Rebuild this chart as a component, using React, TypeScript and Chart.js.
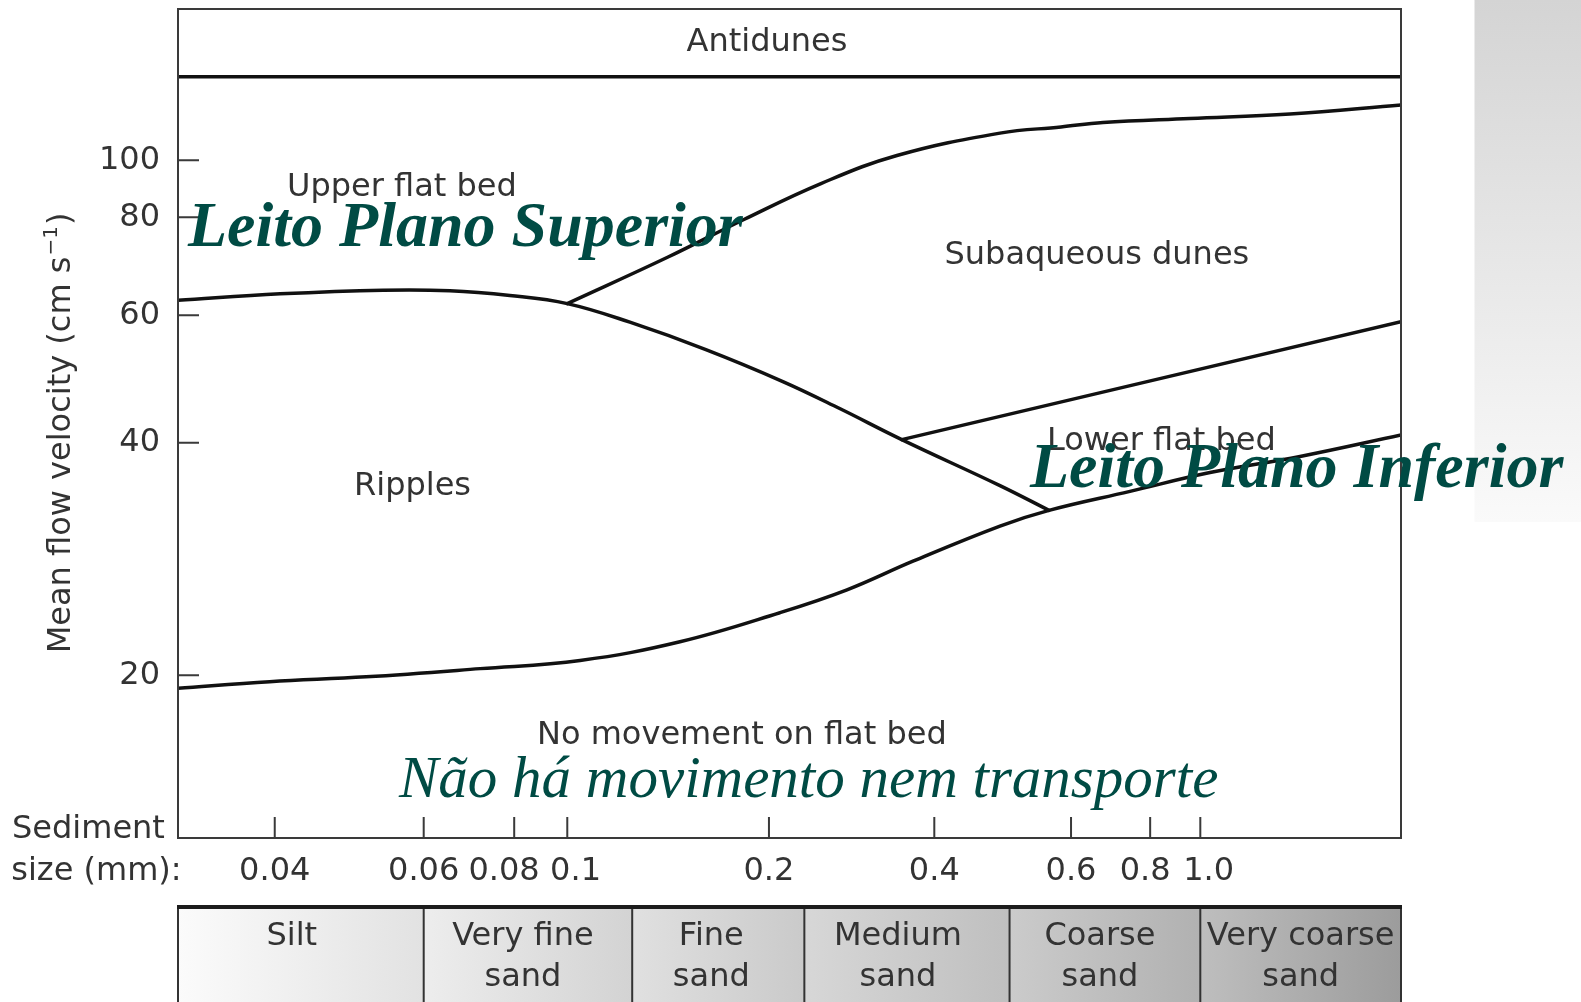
import React, { useEffect, useRef } from 'react';
import { Chart, LinearScale, registerables } from 'chart.js';

Chart.register(...registerables);

// ---------------- data ----------------
const xTickValues = [0.04, 0.06, 0.08, 0.1, 0.2, 0.4, 0.6, 0.8, 1.0];
const xTickLabels = ['0.04', '0.06', '0.08', '0.1', '0.2', '0.4', '0.6', '0.8', '1.0'];
const yTickValues = [20, 40, 60, 80, 100];
const yTickLabels = ['20', '40', '60', '80', '100'];

// calibration of the hand-drawn axes (value -> fraction of the axis length)
const xKnotValues = [0.03, 0.04, 0.06, 0.08, 0.1, 0.2, 0.4, 0.6, 0.8, 1.0, 2.0];
const xKnotFractions = [0, 0.0791, 0.2009, 0.2749, 0.3183, 0.4832, 0.6184, 0.7302, 0.7949, 0.8359, 1];
const yKnotValues = [12, 20, 40, 60, 80, 100, 170];
const yKnotFractions = [0, 0.1963, 0.4768, 0.6305, 0.7487, 0.8175, 1];

// bedform boundaries: sediment size (mm) / mean flow velocity (cm/s)
const antidunesSize = [0.03, 2.0];
const antidunesVelocity = [134, 134];

const ripplesUpperSize = [0.03, 0.0406, 0.0537, 0.0652, 0.0789, 0.1, 0.124, 0.161, 0.212, 0.269, 0.349, 0.486, 0.562];
const ripplesUpperVelocity = [62.7, 63.9, 64.6, 64.5, 63.6, 62.1, 58.7, 53.8, 48.6, 44.6, 40.4, 35.2, 32.7];

const dunesUpperSize = [0.1, 0.1414, 0.1835, 0.2487, 0.342, 0.486, 0.5824, 0.674, 0.955, 1.363, 2.0];
const dunesUpperVelocity = [62.1, 71.2, 79.5, 91.3, 101.7, 110.0, 112.4, 114.2, 115.8, 117.6, 121.4];

const dunesLowerSize = [0.349, 2.0];
const dunesLowerVelocity = [40.4, 58.8];

const movementSize = [0.03, 0.0394, 0.0513, 0.0718, 0.1045, 0.1473, 0.2094, 0.2774, 0.3658, 0.486, 0.562, 0.7434, 1.034, 1.411, 2.0];
const movementVelocity = [19.2, 19.6, 19.9, 20.4, 20.9, 22.1, 24.1, 25.8, 28.1, 31.2, 32.7, 34.6, 36.6, 38.4, 41.0];

const classBounds = [0.03, 0.06, 0.125, 0.232, 0.5, 1.0, 2.0];
const classNames = [['Silt'], ['Very fine', 'sand'], ['Fine', 'sand'], ['Medium', 'sand'], ['Coarse', 'sand'], ['Very coarse', 'sand']];

const regionTexts = ['Antidunes', 'Upper flat bed', 'Subaqueous dunes', 'Ripples', 'Lower flat bed', 'No movement on flat bed'];
const ptTexts = ['Leito Plano Superior', 'Leito Plano Inferior', 'Não há movimento nem transporte'];
const yTitleMain = 'Mean flow velocity (cm s';
const yTitleSup = '\u22121';
const yTitleEnd = ')';
const xTitleLines = ['Sediment', 'size (mm):'];

// ---------------- styles ----------------
const FONT_SANS = '"DejaVu Sans", sans-serif';
const FONT_SERIF = '"Liberation Serif", serif';
const TEXT = '#333333';
const TEAL = '#004b44';
const LINE = '#111111';
const regionTextPos: [number, number, CanvasTextAlign][] = [
  [767, 51, 'center'],
  [287, 196, 'left'],
  [944.5, 263.5, 'left'],
  [354, 495, 'left'],
  [1047, 450, 'left'],
  [537, 743.5, 'left'],
];
const ptTextStyle: [number, number, string][] = [
  [188, 246, 'italic bold 64px ' + FONT_SERIF],
  [1030, 487, 'italic bold 64px ' + FONT_SERIF],
  [399, 797, 'italic 59px ' + FONT_SERIF],
];
const classShades = [
  ['#fbfbfb', '#e2e2e2'],
  ['#ededed', '#d3d3d3'],
  ['#e0e0e0', '#cacaca'],
  ['#d7d7d7', '#bfbfbf'],
  ['#cbcbcb', '#b1b1b1'],
  ['#bebebe', '#9c9c9c'],
];
const classLabelNudge = [-9, -5, -7, -9, -5, 0];
const xTickLabelPad: [string, string][] = [
  ['', ''], ['', ''], ['', '\u00A0\u00A0'], ['\u00A0\u2009', ''], ['', ''],
  ['', ''], ['', ''], ['', '\u00A0'], ['\u00A0\u2009', ''],
];

// ---------------- piecewise-logarithmic scale ----------------
function makeWarpScale(scaleId: string, knotValues: number[], knotFractions: number[], tickValues: number[]) {
  const logs = knotValues.map((v) => Math.log(v));
  const n = logs.length;
  const seg = (arr: number[], v: number) => {
    if (v <= arr[0]) return 0;
    if (v >= arr[n - 1]) return n - 2;
    let i = 0;
    while (i < n - 2 && v > arr[i + 1]) i++;
    return i;
  };
  const toDecimal = (v: number) => {
    const lv = Math.log(v);
    const i = seg(logs, lv);
    const t = (lv - logs[i]) / (logs[i + 1] - logs[i]);
    return knotFractions[i] + t * (knotFractions[i + 1] - knotFractions[i]);
  };
  const fromDecimal = (d: number) => {
    const i = seg(knotFractions, d);
    const t = (d - knotFractions[i]) / (knotFractions[i + 1] - knotFractions[i]);
    return Math.exp(logs[i] + t * (logs[i + 1] - logs[i]));
  };
  class WarpScale extends (LinearScale as any) {
    static id = scaleId;
    static defaults = {};
    buildTicks() {
      return tickValues.map((value) => ({ value }));
    }
    getPixelForValue(value: number) {
      if (value === null || value === undefined || !isFinite(value) || value <= 0) return NaN;
      return (this as any).getPixelForDecimal(toDecimal(value));
    }
    getValueForPixel(pixel: number) {
      return fromDecimal((this as any).getDecimalForPixel(pixel));
    }
  }
  return WarpScale;
}

const WarpX = makeWarpScale('warpX', xKnotValues, xKnotFractions, xTickValues);
const WarpY = makeWarpScale('warpY', yKnotValues, yKnotFractions, yTickValues);
Chart.register(WarpX as any, WarpY as any);

const curve = (size: number[], vel: number[], width = 3.5) => ({
  data: size.map((x, i) => ({ x, y: vel[i] })),
  borderColor: LINE,
  borderWidth: width,
  pointRadius: 0,
  fill: false,
  tension: 0.4,
  borderCapStyle: 'round' as const,
  borderJoinStyle: 'round' as const,
});

const overlayPlugin = {
  id: 'overlay',
  beforeDraw(chart: any) {
    const ctx: CanvasRenderingContext2D = chart.ctx;
    ctx.save();
    const g = ctx.createLinearGradient(0, 0, 0, 522);
    g.addColorStop(0, '#d4d4d4');
    g.addColorStop(1, '#fafafa');
    ctx.fillStyle = g;
    ctx.fillRect(1474.5, 0, 107, 522);
    ctx.restore();
  },
  afterDraw(chart: any) {
    const ctx: CanvasRenderingContext2D = chart.ctx;
    const a = chart.chartArea;
    const xs = chart.scales.x;
    const ys = chart.scales.y;
    ctx.save();

    // frame
    ctx.strokeStyle = '#3a3a3a';
    ctx.lineWidth = 2;
    ctx.strokeRect(a.left, a.top, a.right - a.left, a.bottom - a.top);

    // inward tick marks
    ctx.beginPath();
    xTickValues.forEach((v) => {
      const px = xs.getPixelForValue(v);
      ctx.moveTo(px, a.bottom);
      ctx.lineTo(px, a.bottom - 21);
    });
    yTickValues.forEach((v) => {
      const py = ys.getPixelForValue(v);
      ctx.moveTo(a.left, py);
      ctx.lineTo(a.left + 21, py);
    });
    ctx.stroke();

    // region labels
    ctx.fillStyle = TEXT;
    ctx.font = '32px ' + FONT_SANS;
    ctx.textBaseline = 'alphabetic';
    regionTexts.forEach((t, i) => {
      const [x, y, al] = regionTextPos[i];
      ctx.textAlign = al;
      ctx.fillText(t, x, y);
    });

    // x title (left side)
    ctx.textAlign = 'left';
    ctx.fillText(xTitleLines[0], 12, 838);
    ctx.fillText(xTitleLines[1], 11.3, 880);

    // y title (rotated)
    ctx.save();
    ctx.translate(70, 434);
    ctx.rotate(-Math.PI / 2);
    ctx.font = '32px ' + FONT_SANS;
    const w1 = ctx.measureText(yTitleMain).width;
    const w3 = ctx.measureText(yTitleEnd).width;
    ctx.font = '20px ' + FONT_SANS;
    const w2 = ctx.measureText(yTitleSup).width;
    const start = -(w1 + w2 + w3) / 2;
    ctx.textAlign = 'left';
    ctx.font = '32px ' + FONT_SANS;
    ctx.fillText(yTitleMain, start, 0);
    ctx.font = '20px ' + FONT_SANS;
    ctx.fillText(yTitleSup, start + w1 + 1, -13);
    ctx.font = '32px ' + FONT_SANS;
    ctx.fillText(yTitleEnd, start + w1 + w2 + 2, 0);
    ctx.restore();

    // grain size classes
    const boxTop = 907;
    const boxBottom = 1010;
    for (let i = 0; i < classNames.length; i++) {
      const x0 = xs.getPixelForValue(classBounds[i]);
      const x1 = xs.getPixelForValue(classBounds[i + 1]);
      const g = ctx.createLinearGradient(x0, 0, x1, 0);
      g.addColorStop(0, classShades[i][0]);
      g.addColorStop(1, classShades[i][1]);
      ctx.fillStyle = g;
      ctx.fillRect(x0, boxTop, x1 - x0, boxBottom - boxTop);
    }
    ctx.strokeStyle = '#333333';
    ctx.lineWidth = 2;
    ctx.beginPath();
    classBounds.forEach((b) => {
      const px = xs.getPixelForValue(b);
      ctx.moveTo(px, boxTop);
      ctx.lineTo(px, boxBottom);
    });
    ctx.stroke();
    ctx.strokeStyle = '#1c1c1c';
    ctx.lineWidth = 4;
    ctx.beginPath();
    ctx.moveTo(a.left - 1, boxTop);
    ctx.lineTo(a.right + 1, boxTop);
    ctx.stroke();

    ctx.fillStyle = TEXT;
    ctx.font = '32px ' + FONT_SANS;
    ctx.textAlign = 'center';
    classNames.forEach((lines, i) => {
      const cx = (xs.getPixelForValue(classBounds[i]) + xs.getPixelForValue(classBounds[i + 1])) / 2 + classLabelNudge[i];
      lines.forEach((ln, j) => ctx.fillText(ln, cx, 945 + j * 41));
    });

    // Portuguese overlay labels
    ctx.fillStyle = TEAL;
    ctx.textAlign = 'left';
    ptTexts.forEach((t, i) => {
      const [x, y, f] = ptTextStyle[i];
      ctx.font = f;
      ctx.fillText(t, x, y);
    });

    ctx.restore();
  },
};

export default function App() {
  const ref = useRef<HTMLCanvasElement>(null);

  useEffect(() => {
    if (!ref.current) return;
    const chart = new Chart(ref.current, {
      type: 'line',
      data: {
        datasets: [
          curve(antidunesSize, antidunesVelocity, 3.5),
          curve(ripplesUpperSize, ripplesUpperVelocity),
          curve(dunesUpperSize, dunesUpperVelocity),
          curve(dunesLowerSize, dunesLowerVelocity),
          curve(movementSize, movementVelocity),
        ] as any,
      },
      options: {
        animation: false,
        responsive: false,
        maintainAspectRatio: false,
        layout: { padding: { left: 0, top: 9, right: 180, bottom: 0 } },
        plugins: { legend: { display: false }, tooltip: { enabled: false } },
        scales: {
          x: {
            type: 'warpX' as any,
            position: 'bottom',
            min: 0.03,
            max: 2.0,
            grid: { display: false, drawTicks: false },
            border: { display: false },
            ticks: {
              autoSkip: false,
              maxRotation: 0,
              minRotation: 0,
              padding: 14,
              color: TEXT,
              font: { family: FONT_SANS, size: 32 },
              callback: (_v: any, i: number) => xTickLabelPad[i][0] + xTickLabels[i] + xTickLabelPad[i][1],
            },
            afterFit: (s: any) => {
              s.height = 164;
              s.paddingLeft = 0;
              s.paddingRight = 0;
            },
          },
          y: {
            type: 'warpY' as any,
            position: 'left',
            min: 12,
            max: 170,
            grid: { display: false, drawTicks: false },
            border: { display: false },
            ticks: {
              autoSkip: false,
              padding: 18,
              color: TEXT,
              font: { family: FONT_SANS, size: 32 },
              callback: (_v: any, i: number) => yTickLabels[i],
            },
            afterFit: (s: any) => {
              s.width = 178;
              s.paddingTop = 0;
              s.paddingBottom = 0;
            },
          },
        } as any,
      },
      plugins: [overlayPlugin],
    });
    return () => chart.destroy();
  }, []);

  return (
    <div style={{ position: 'absolute', left: 0, top: 0, width: 1581, height: 1002, background: '#ffffff' }}>
      <canvas ref={ref} width={1581} height={1002} style={{ display: 'block' }} />
    </div>
  );
}
